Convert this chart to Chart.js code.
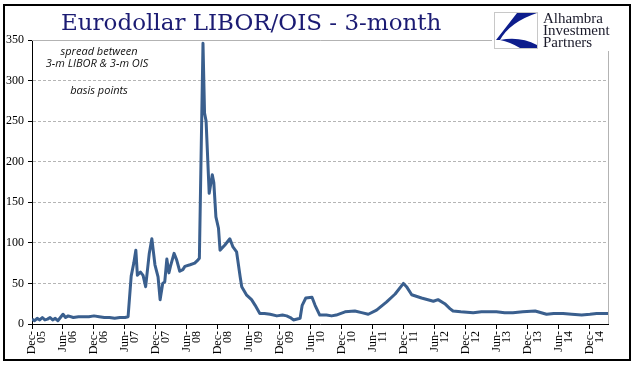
<!DOCTYPE html>
<html>
<head>
<meta charset="utf-8">
<script src="https://cdn.jsdelivr.net/npm/chart.js@4"></script>
<style>
  body { margin: 0; background: #fff; }
  canvas { display: block; }
</style>
</head>
<body>
<canvas id="myChart" width="641" height="375"></canvas>
<script>
// months counted from Dec-05 (0) to mid Mar-15
const months = [0, 0.5, 1, 1.5, 2, 2.5, 3, 3.5, 4, 4.5, 5, 5.5, 6, 6.5, 7, 8, 9, 10, 11, 12, 13, 14, 15, 16, 17, 18,
  18.6, 19.2, 19.7, 20.1, 20.4, 21, 21.5, 22, 22.7, 23.2, 23.8, 24.4, 24.8, 25.3, 25.7, 26.1, 26.5, 26.8, 27.5, 28,
  28.6, 29.2, 29.6, 30.6, 31.5, 32, 32.4, 33.1, 33.4, 33.7, 34.3, 34.9, 35.2, 35.6, 36.1, 36.4, 37.3, 38.3, 38.9,
  39.6, 40.3, 40.6, 41.5, 42.5, 43.2, 44.1, 45, 46.1, 47.4, 48.5, 49.3, 50, 50.6, 51.9, 52.3, 53, 54.2, 54.8, 55.7,
  57, 58, 58.9, 60.6, 62.5, 63.8, 65.1, 66.7, 68.6, 70.3, 71.9, 72.5, 73.5, 75.4, 77.7, 78.6, 79.9, 80.9, 81.5, 83,
  85.4, 87, 89.9, 91.5, 93.1, 95, 97.4, 99.6, 101, 102.8, 104.5, 106.4, 108, 109.3, 111.5];

// spread between 3-m LIBOR & 3-m OIS, basis points
const spread = [6, 4, 7, 5, 8, 5, 6, 8, 5, 7, 4, 8, 12, 8, 10, 8, 9, 9, 9, 10, 9, 8, 8, 7, 8, 8,
  9, 59, 75, 91, 60, 64, 60, 46, 87, 105, 73, 58, 30, 50, 52, 80, 63, 71, 87, 79,
  65, 67, 71, 73, 75, 78, 81, 346, 260, 250, 161, 184, 174, 132, 118, 91, 97, 105, 95,
  89, 58, 46, 36, 30, 23, 13, 13, 12, 10, 11, 10, 8, 5, 7, 23, 32, 33, 23, 11,
  11, 10, 11, 15, 16, 14, 12, 17, 27, 37, 50, 46, 36, 32, 28, 30, 25, 19, 16, 15,
  14, 15, 15, 14, 14, 15, 16, 12, 13, 13, 12, 11, 12, 13, 13];

const tickLabels = ['Dec-05', 'Jun-06', 'Dec-06', 'Jun-07', 'Dec-07', 'Jun-08', 'Dec-08', 'Jun-09', 'Dec-09',
  'Jun-10', 'Dec-10', 'Jun-11', 'Dec-11', 'Jun-12', 'Dec-12', 'Jun-13', 'Dec-13', 'Jun-14', 'Dec-14'];

const titleText = 'Eurodollar LIBOR/OIS - 3-month';
const noteLines = ['spread between', '3-m LIBOR & 3-m OIS'];
const unitText = 'basis points';
const logoLines = ['Alhambra', 'Investment', 'Partners'];

// titel, notatki, logo i ramka
const decor = {
    id: 'decor',
    beforeDraw(chart) {
        const ctx = chart.ctx;
        ctx.save();
        ctx.fillStyle = '#fff';
        ctx.fillRect(0, 0, chart.width, chart.height);
        ctx.restore();
    },
    afterDraw(chart) {
        const ctx = chart.ctx;
        const a = chart.chartArea;
        ctx.save();
        // gorna i prawa krawedz obszaru wykresu
        ctx.strokeStyle = '#b3b3b3';
        ctx.lineWidth = 1;
        ctx.beginPath();
        ctx.moveTo(a.left, Math.round(a.top) + 0.5);
        ctx.lineTo(Math.round(a.right) + 0.5, Math.round(a.top) + 0.5);
        ctx.lineTo(Math.round(a.right) + 0.5, a.bottom);
        ctx.stroke();

        // tytul
        ctx.fillStyle = '#1b1b73';
        ctx.font = '23px "DejaVu Serif"';
        ctx.textBaseline = 'alphabetic';
        ctx.textAlign = 'left';
        ctx.fillText(titleText, 61, 30);

        // opisy
        ctx.fillStyle = '#111';
        ctx.font = 'italic 11px "Open Sans"';
        ctx.textAlign = 'center';
        ctx.textBaseline = 'middle';
        ctx.fillText(noteLines[0], 99, 52);
        ctx.fillText(noteLines[1], 97, 64);
        ctx.fillText(unitText, 99, 91);

        // logo
        ctx.fillStyle = '#fff';
        ctx.fillRect(492, 6, 136, 45);
        ctx.strokeStyle = '#c8c8c8';
        ctx.strokeRect(494.5, 12.5, 43, 36);
        ctx.fillStyle = '#0d1d8c';
        ctx.beginPath();
        ctx.moveTo(517, 13);
        ctx.lineTo(537, 13);
        ctx.quadraticCurveTo(510, 22, 500, 40);
        ctx.lineTo(496, 40);
        ctx.closePath();
        ctx.fill();
        ctx.beginPath();
        ctx.moveTo(500, 40);
        ctx.quadraticCurveTo(520, 36, 537, 45);
        ctx.lineTo(537, 48);
        ctx.lineTo(520, 48);
        ctx.quadraticCurveTo(510, 42, 500, 40);
        ctx.closePath();
        ctx.fill();

        ctx.fillStyle = '#1a1a2a';
        ctx.font = '15px "Liberation Serif"';
        ctx.textAlign = 'left';
        ctx.textBaseline = 'alphabetic';
        ctx.fillText(logoLines[0], 543, 23);
        ctx.fillText(logoLines[1], 543, 35);
        ctx.fillText(logoLines[2], 543, 47);

        // ramka
        ctx.strokeStyle = '#000';
        ctx.lineWidth = 2;
        ctx.strokeRect(4, 5, 626, 355);
        ctx.restore();
    }
};

const data = {
    datasets: [{
        label: 'LIBOR/OIS',
        data: months.map((m, i) => ({x: m, y: spread[i]})),
        borderColor: '#3a5f8e',
        borderWidth: 3,
        pointRadius: 0,
        tension: 0,
        borderJoinStyle: 'round',
        fill: false
    }]
};

const config = {
    type: 'line',
    data: data,
    options: {
        responsive: false,
        animation: false,
        devicePixelRatio: 1,
        layout: {
            padding: {top: 40, right: 33, left: 0, bottom: 0}
        },
        plugins: {
            legend: {display: false},
            tooltip: {enabled: false}
        },
        scales: {
            x: {
                type: 'linear',
                min: 0,
                max: 111.5,
                afterFit: (scale) => { scale.height = 51; },
                afterBuildTicks: (scale) => {
                    scale.ticks = scale.ticks.filter(t => t.value % 6 === 0);
                },
                grid: {
                    drawOnChartArea: false,
                    drawTicks: true,
                    tickLength: 5,
                    tickColor: '#000'
                },
                border: {color: '#000', width: 1},
                ticks: {
                    stepSize: 6,
                    includeBounds: false,
                    autoSkip: false,
                    maxRotation: 90,
                    minRotation: 90,
                    padding: 2,
                    color: '#000',
                    font: {family: '"Liberation Serif"', size: 12, lineHeight: 0.8},
                    callback: (value) => {
                        const lab = tickLabels[Math.round(value / 6)];
                        if (!lab) return '';
                        const parts = lab.split('-');
                        return [parts[0] + '-', parts[1]];
                    }
                }
            },
            y: {
                min: 0,
                max: 350,
                afterFit: (scale) => { scale.width = 32; },
                grid: {
                    color: (c) => (c.tick.value === 0 || c.tick.value === 350) ? 'rgba(0,0,0,0)' : '#b5b5b5',
                    tickColor: '#000',
                    tickLength: 4
                },
                border: {color: '#000', width: 1, dash: [3, 2]},
                ticks: {
                    stepSize: 50,
                    padding: 4,
                    color: '#000',
                    font: {family: '"Liberation Serif"', size: 12}
                }
            }
        }
    },
    plugins: [decor]
};

const myChart = new Chart(
    document.getElementById('myChart'),
    config
);
</script>
</body>
</html>
